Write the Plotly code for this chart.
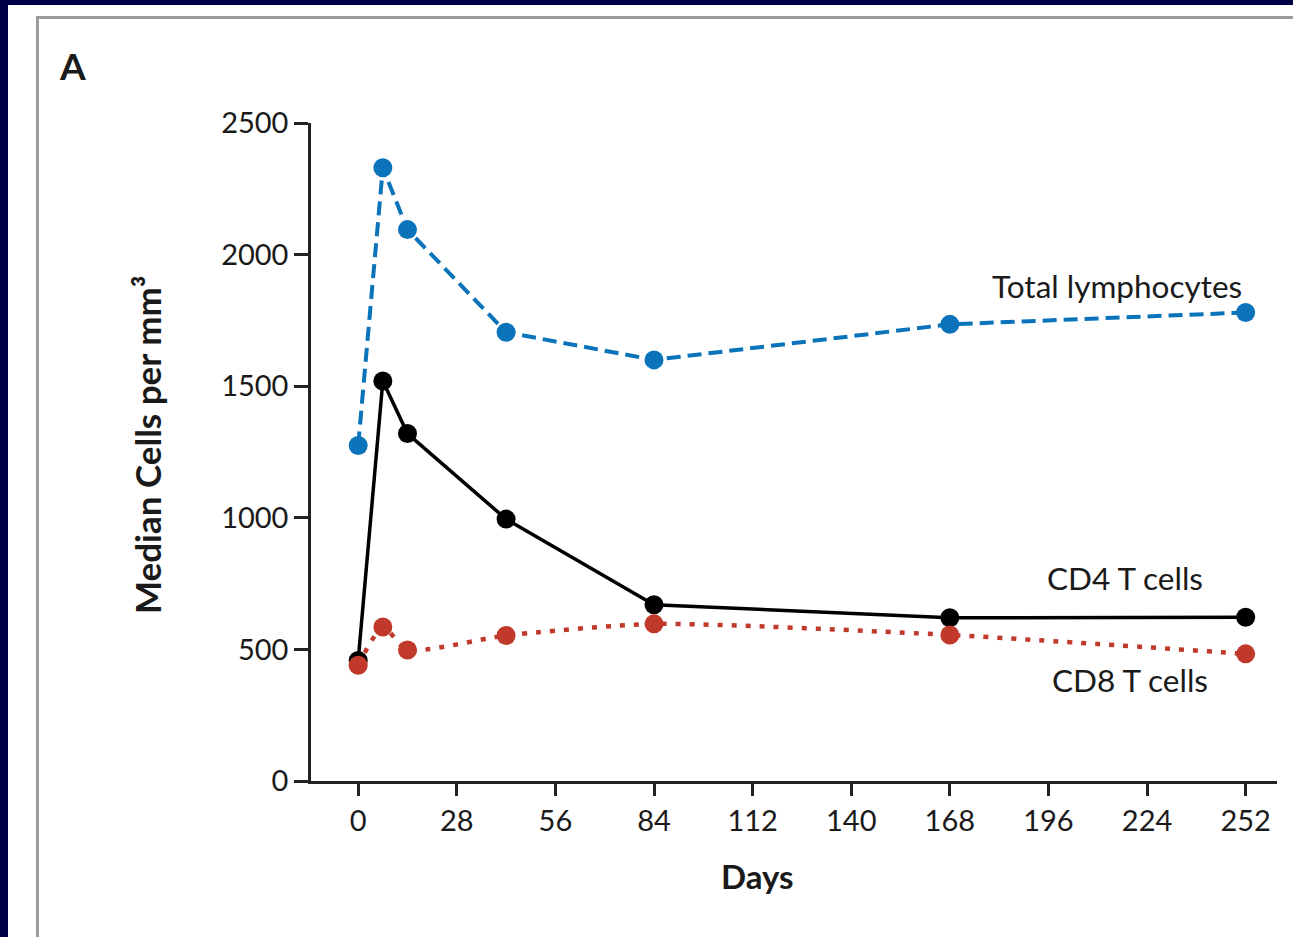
import plotly.graph_objects as go

# ---- data ----
days = [0, 7, 14, 42, 84, 168, 252]
total_lymphocytes = [1275, 2330, 2095, 1705, 1600, 1735, 1780]
cd4_t_cells = [458, 1520, 1320, 995, 670, 620, 622]
cd8_t_cells = [440, 585, 498, 553, 597, 555, 483]
x_ticks = [0, 28, 56, 84, 112, 140, 168, 196, 224, 252]
y_ticks = [0, 500, 1000, 1500, 2000, 2500]

W, H = 1293, 937
L, R, T, B = 311, 16, 123, 156
PW, PH = W - L - R, H - T - B


def px(xp):
    return (xp - L) / PW


def py(yp):
    return (H - B - yp) / PH


FONT = "Lato"
TXT = "#1a1a1a"
BLUE = "#0b73b9"
RED = "#c0392b"

fig = go.Figure()
fig.add_trace(go.Scatter(
    x=days, y=total_lymphocytes, mode="lines+markers",
    line=dict(color=BLUE, width=4, dash="14px,7px"),
    marker=dict(color=BLUE, size=19), showlegend=False, hoverinfo="skip"))
fig.add_trace(go.Scatter(
    x=days, y=cd4_t_cells, mode="lines+markers",
    line=dict(color="black", width=3.5),
    marker=dict(color="black", size=19), showlegend=False, hoverinfo="skip"))
fig.add_trace(go.Scatter(
    x=days, y=cd8_t_cells, mode="lines+markers",
    line=dict(color=RED, width=4.5, dash="5px,9px", shape="spline", smoothing=0.6),
    marker=dict(color=RED, size=19), showlegend=False, hoverinfo="skip"))

axis_common = dict(showgrid=False, zeroline=False, showline=True,
                   linecolor="#222", linewidth=2.5, ticks="outside",
                   tickcolor="#222", tickwidth=2.5,
                   tickfont=dict(family=FONT, size=29, color=TXT))

fig.update_xaxes(range=[-13.4, 260.9], tickvals=x_ticks, ticklen=12, **axis_common)
fig.update_yaxes(range=[0, 2500], tickvals=y_ticks, ticklen=14, **axis_common)

annotations = [
    dict(text="<b>A</b>", x=px(72), y=py(65), size=37),
    dict(text="<b>Days</b>", x=px(757), y=py(876), size=33),
    dict(text="<b>Median Cells per mm³</b>", x=px(147), y=py(445), size=35, angle=-90),
    dict(text="Total lymphocytes", x=px(1117), y=py(286), size=31.5),
    dict(text="CD4 T cells", x=px(1125), y=py(578), size=31.5),
    dict(text="CD8 T cells", x=px(1130), y=py(680), size=31.5),
]
for a in annotations:
    fig.add_annotation(text=a["text"], x=a["x"], y=a["y"], xref="paper", yref="paper",
                       showarrow=False, textangle=a.get("angle", 0),
                       xanchor="center", yanchor="middle",
                       font=dict(family=FONT, size=a["size"], color=TXT))

NAVY = "#000046"
shapes = [
    dict(type="rect", x0=px(-5), x1=px(8), y0=py(H + 5), y1=py(-5),
         fillcolor=NAVY, line=dict(width=0)),
    dict(type="rect", x0=px(-5), x1=px(W + 5), y0=py(5), y1=py(-5),
         fillcolor=NAVY, line=dict(width=0)),
    dict(type="line", x0=px(37.5), x1=px(37.5), y0=py(17.5), y1=py(H + 5),
         line=dict(color="#9a9a9a", width=3)),
    dict(type="line", x0=px(36), x1=px(W + 5), y0=py(17.5), y1=py(17.5),
         line=dict(color="#9a9a9a", width=3)),
]
for s in shapes:
    fig.add_shape(xref="paper", yref="paper", **s)

fig.update_layout(width=W, height=H, margin=dict(l=L, r=R, t=T, b=B, pad=0),
                  paper_bgcolor="white", plot_bgcolor="white",
                  hovermode=False, showlegend=False)

fig.write_html("out.html", config={"displayModeBar": False},
               post_script="document.body.style.margin='0';document.body.style.overflow='hidden';")
